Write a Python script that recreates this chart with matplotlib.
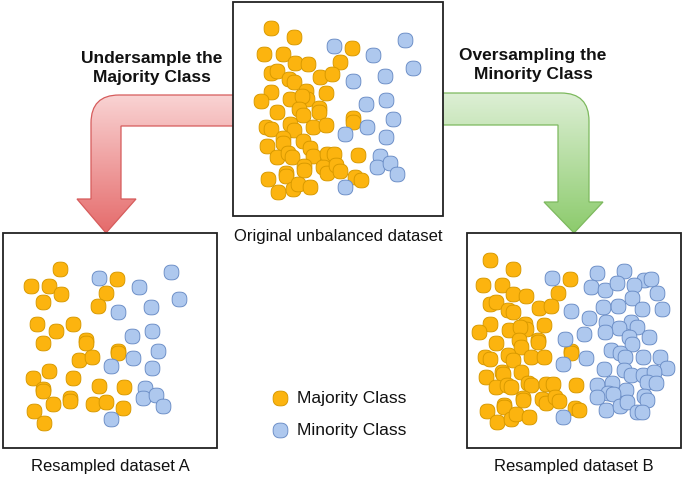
import numpy as np
import matplotlib
matplotlib.use("Agg")
import matplotlib.pyplot as plt
from matplotlib.path import Path
from matplotlib.patches import PathPatch, Rectangle

plt.rcParams['font.family'] = ['Liberation Sans', 'DejaVu Sans']

# ---------------- data (pixel positions) ----------------
orig_major_x = [270.7, 294.0, 264.3, 283.3, 295.0, 307.7, 351.7, 340.0, 270.7, 277.3, 289.3, 294.0, 320.0, 332.0,
                270.7, 260.7, 290.0, 306.0, 307.3, 301.7, 325.7, 276.7, 299.3, 302.7, 319.3, 319.3, 352.7, 352.7,
                266.0, 270.7, 290.0, 294.0, 312.7, 325.7, 283.3, 283.3, 302.7, 310.0, 266.7, 276.7, 288.3, 291.7,
                312.7, 326.7, 334.3, 358.0, 304.0, 304.0, 323.3, 326.7, 336.0, 340.0, 355.0, 360.7, 268.3, 286.0,
                286.0, 278.3, 292.7, 298.3, 310.0]
orig_major_y = [28.3, 37.3, 54.0, 54.0, 62.7, 64.0, 47.7, 61.7, 72.7, 70.7, 79.3, 82.0, 76.7, 74.0, 92.3, 101.0,
                98.7, 90.7, 98.7, 96.0, 93.3, 111.7, 109.3, 115.3, 108.3, 112.0, 118.3, 121.7, 126.7, 129.3, 124.0,
                130.0, 127.3, 125.3, 137.7, 142.7, 140.7, 148.3, 146.0, 157.3, 153.3, 156.7, 156.0, 154.0, 154.0,
                154.7, 166.0, 170.0, 167.3, 172.7, 165.0, 170.7, 176.7, 180.0, 179.3, 173.3, 176.0, 191.7, 189.3,
                184.0, 187.3]
orig_minor_x = [334.0, 373.3, 405.3, 412.7, 352.7, 384.7, 365.7, 385.7, 392.7, 366.7, 345.0, 385.7, 380.0, 376.7,
                390.0, 397.3, 345.0]
orig_minor_y = [46.0, 55.0, 40.0, 68.3, 80.7, 75.7, 104.0, 100.0, 119.3, 126.7, 134.3, 136.7, 155.7, 166.7,
                163.3, 174.0, 186.7]

a_major_x = [60.0, 30.7, 49.3, 61.0, 43.3, 117.3, 106.0, 98.3, 36.7, 56.0, 72.7, 43.3, 85.7, 85.7, 118.3, 118.3,
             79.0, 92.0, 33.3, 49.3, 72.7, 43.3, 43.3, 99.3, 124.0, 70.0, 70.0, 53.3, 93.3, 106.0, 122.7, 34.3, 44.3]
a_major_y = [269.0, 285.7, 285.7, 294.3, 302.3, 279.3, 293.3, 306.0, 324.0, 330.7, 324.0, 343.3, 340.0, 343.3,
             350.7, 353.3, 360.0, 357.3, 377.7, 371.0, 377.7, 389.3, 391.0, 386.0, 386.7, 398.3, 400.7, 404.3,
             404.3, 402.3, 408.3, 411.0, 423.3]
a_minor_x = [99.3, 139.3, 171.0, 179.0, 118.3, 150.7, 131.7, 152.0, 158.0, 132.7, 111.0, 152.0, 145.3, 142.7,
             155.7, 163.3, 111.0]
a_minor_y = [277.7, 286.7, 271.7, 299.3, 312.3, 307.3, 335.7, 331.0, 350.7, 358.3, 366.0, 368.3, 387.7, 398.3,
             395.0, 405.7, 419.0]

b_major_x = [489.7, 512.7, 483.0, 502.3, 513.3, 526.3, 570.0, 558.3, 490.0, 496.3, 508.3, 512.7, 539.0, 551.3,
             489.7, 479.3, 509.0, 524.7, 525.7, 520.0, 544.3, 495.7, 519.0, 521.3, 538.0, 538.0, 571.3, 571.3,
             485.0, 490.0, 508.0, 513.3, 530.7, 544.0, 502.3, 503.3, 521.3, 528.3, 486.3, 495.7, 507.3, 510.7,
             530.7, 545.7, 553.3, 576.3, 522.7, 522.7, 542.3, 545.7, 554.7, 559.3, 574.7, 578.7, 486.7, 504.0,
             504.0, 497.3, 510.7, 516.3, 529.0]
b_major_y = [260.0, 268.7, 285.0, 285.0, 294.0, 295.7, 279.0, 293.3, 304.0, 301.7, 310.0, 312.0, 308.3, 306.0,
             324.0, 332.3, 330.0, 324.3, 329.0, 326.7, 325.0, 343.3, 340.0, 346.7, 340.0, 342.0, 350.7, 352.7,
             357.3, 359.3, 355.3, 360.0, 357.3, 356.7, 371.7, 374.0, 372.0, 382.7, 376.7, 387.3, 385.0, 386.7,
             385.3, 384.0, 384.0, 385.0, 398.3, 400.0, 399.0, 402.7, 396.7, 400.7, 408.3, 410.0, 410.7, 405.0,
             406.7, 421.7, 419.3, 414.0, 417.3]
b_minor_x = [552.3, 597.3, 624.0, 644.0, 651.3, 591.3, 604.7, 617.3, 634.0, 656.7, 631.7, 571.3, 603.3, 618.0,
             642.3, 662.0, 589.3, 606.0, 630.7, 636.7, 619.3, 604.7, 584.0, 564.7, 629.0, 632.3, 649.0, 610.7,
             620.0, 624.7, 643.3, 660.0, 667.3, 585.7, 563.3, 604.0, 624.0, 631.3, 643.3, 654.0, 646.7, 655.7,
             597.3, 612.3, 625.7, 608.0, 596.7, 605.7, 612.7, 619.7, 627.3, 644.3, 647.3, 637.3, 642.3, 563.3]
b_minor_y = [277.7, 272.7, 270.7, 280.0, 279.3, 286.7, 290.0, 282.7, 285.0, 292.7, 298.3, 311.0, 307.3, 306.0,
             309.3, 309.0, 318.3, 321.7, 321.7, 326.7, 327.7, 331.7, 334.0, 339.0, 337.3, 344.0, 337.3, 350.0,
             353.3, 356.7, 356.7, 356.7, 368.3, 358.3, 364.3, 369.3, 370.0, 375.0, 375.0, 371.7, 381.7, 383.3,
             385.0, 383.3, 390.0, 392.7, 396.7, 410.0, 394.3, 406.0, 401.7, 395.7, 400.0, 411.7, 412.3, 417.3]

legend_labels = ["Majority Class", "Minority Class"]
box_labels = ["Original unbalanced dataset", "Resampled dataset A", "Resampled dataset B"]
arrow_labels = ["Undersample the\nMajority Class", "Oversampling the\nMinority Class"]

# ---------------- figure ----------------
W, H = 683, 480
fig = plt.figure(figsize=(W / 100, H / 100), dpi=100)
ax = fig.add_axes([0, 0, 1, 1])
ax.set_xlim(0, W)
ax.set_ylim(H, 0)
ax.axis('off')

ORANGE, ORANGE_E = '#FCB40F', '#D99A00'
BLUE, BLUE_E = '#AEC8EE', '#6E90C8'

# rounded-square marker (superellipse)
t = np.linspace(0, 2 * np.pi, 80)
c, s = np.cos(t), np.sin(t)
mx = np.sign(c) * np.abs(c) ** 0.8
my = np.sign(s) * np.abs(s) ** 0.8
marker = Path(np.column_stack([mx, my]), closed=True)
MS = 112


def gradient_arrow(verts, top, bottom, c_top, c_bot, edge):
    codes = [Path.MOVETO, Path.LINETO, Path.CURVE3, Path.CURVE3] + [Path.LINETO] * (len(verts) - 5) + [Path.CLOSEPOLY]
    path = Path(verts, codes)
    patch = PathPatch(path, facecolor='none', edgecolor=edge, lw=0.9, zorder=2)
    ax.add_patch(patch)
    ct = np.array(matplotlib.colors.to_rgba(c_top))
    cb = np.array(matplotlib.colors.to_rgba(c_bot))
    f = np.linspace(0, 1, 256)[:, None, None]
    grad = ct[None, None, :] * (1 - f) + cb[None, None, :] * f
    xs = [v[0] for v in verts]
    im = ax.imshow(grad, extent=[min(xs), max(xs), bottom, top], origin='upper',
                   aspect='auto', zorder=1.5, interpolation='bilinear')
    im.set_clip_path(patch)


r = 28
red_verts = [(236, 95), (91 + r, 95), (91, 95), (91, 95 + r), (91, 199), (77, 199), (106, 233),
             (136, 199), (121, 199), (121, 126), (236, 126), (236, 95)]
gradient_arrow(red_verts, 95, 233, '#F9D3D3', '#E56B6B', '#D65C5C')
green_verts = [(441, 93), (589 - r, 93), (589, 93), (589, 93 + r), (589, 202), (603, 202), (574, 233),
               (544, 202), (558, 202), (558, 125), (441, 125), (441, 93)]
gradient_arrow(green_verts, 93, 233, '#DDEFD5', '#8CCB6C', '#7DB95E')
ax.set_xlim(0, W)
ax.set_ylim(H, 0)

# boxes
for (x0, y0, x1, y1) in [(233, 2, 443, 216), (3, 233, 217, 448), (467, 233, 681, 448)]:
    ax.add_patch(Rectangle((x0, y0), x1 - x0, y1 - y0, facecolor='white', edgecolor='#222222', lw=1.3, zorder=3))

for mxs, mys, fc, ec in [(orig_major_x, orig_major_y, ORANGE, ORANGE_E), (orig_minor_x, orig_minor_y, BLUE, BLUE_E),
                         (a_major_x, a_major_y, ORANGE, ORANGE_E), (a_minor_x, a_minor_y, BLUE, BLUE_E),
                         (b_major_x, b_major_y, ORANGE, ORANGE_E), (b_minor_x, b_minor_y, BLUE, BLUE_E)]:
    ax.scatter(mxs, mys, s=MS, marker=marker, facecolor=fc, edgecolor=ec, linewidths=0.7, zorder=4)

# legend
ax.scatter([280], [398], s=MS, marker=marker, facecolor=ORANGE, edgecolor=ORANGE_E, linewidths=0.7, zorder=4)
ax.scatter([280], [430], s=MS, marker=marker, facecolor=BLUE, edgecolor=BLUE_E, linewidths=0.7, zorder=4)
ax.text(297, 398, legend_labels[0], fontsize=12.5, va='center', ha='left', color='#111111')
ax.text(297, 430, legend_labels[1], fontsize=12.5, va='center', ha='left', color='#111111')

# labels
ax.text(338, 237, box_labels[0], fontsize=12, ha='center', va='center', color='#111111')
ax.text(110, 467, box_labels[1], fontsize=12, ha='center', va='center', color='#111111')
ax.text(574, 467, box_labels[2], fontsize=12, ha='center', va='center', color='#111111')

ax.text(152, 68, arrow_labels[0], fontsize=12.5, fontweight='bold', ha='center', va='center',
        linespacing=1.35, color='#111111')
ax.text(533, 65, arrow_labels[1], fontsize=12.5, fontweight='bold', ha='center', va='center',
        linespacing=1.35, color='#111111')

fig.savefig('out.png', dpi=100)
